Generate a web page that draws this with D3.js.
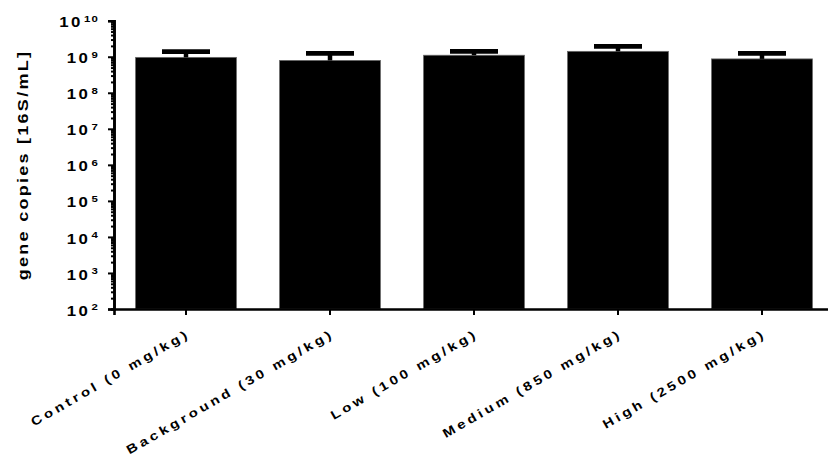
<!DOCTYPE html>
<html>
<head>
<meta charset="utf-8">
<script src="https://cdn.jsdelivr.net/npm/d3@7"></script>
<style>
  html, body { margin: 0; padding: 0; background: #fff; }
  svg { display: block; }
  text { font-family: "Liberation Sans", Arial, sans-serif; font-weight: bold; fill: #000; }
</style>
</head>
<body>
<svg id="chart" width="828" height="458"></svg>
<script>
// Bacterial 16S gene copies per treatment level (mean and upper SD bound)
const categories = ["Control (0 mg/kg)", "Background (30 mg/kg)", "Low (100 mg/kg)", "Medium (850 mg/kg)", "High (2500 mg/kg)"];
const means = [9.6e8, 7.9e8, 1.1e9, 1.41e9, 8.7e8];
const upperErrors = [1.38e9, 1.24e9, 1.40e9, 1.95e9, 1.24e9];
const yTickExponents = [2, 3, 4, 5, 6, 7, 8, 9, 10];

const svg = d3.select("#chart");
const x0 = 114, x1 = 834, yTop = 20.7, yBottom = 309;
const wide = 1.2; // horizontal stretch of the bold lettering

const x = d3.scaleBand().domain(categories).range([x0, x1]).paddingInner(0.3).paddingOuter(0.15);
const y = d3.scaleLog().domain([1e2, 1e10]).range([yBottom, yTop]);

// bars
svg.append("g").selectAll("rect").data(categories).join("rect")
  .attr("x", d => x(d))
  .attr("width", x.bandwidth())
  .attr("y", (d, i) => y(means[i]))
  .attr("height", (d, i) => yBottom - y(means[i]))
  .attr("fill", "#000")
  .attr("stroke", "#666")
  .attr("stroke-width", 0.8);

// error bars (upper only)
const eb = svg.append("g");
categories.forEach((c, i) => {
  const cx = x(c) + x.bandwidth() / 2;
  eb.append("line").attr("x1", cx).attr("x2", cx)
    .attr("y1", y(means[i])).attr("y2", y(upperErrors[i]))
    .attr("stroke", "#000").attr("stroke-width", 4.5);
  eb.append("line").attr("x1", cx - 24).attr("x2", cx + 24)
    .attr("y1", y(upperErrors[i])).attr("y2", y(upperErrors[i]))
    .attr("stroke", "#000").attr("stroke-width", 4.8);
});

// y axis: major decades plus log minor ticks
const minorTicks = [];
for (let e = 2; e < 10; e++) for (let m = 2; m <= 9; m++) minorTicks.push(m * Math.pow(10, e));
const yAxisMinor = d3.axisLeft(y).tickValues(minorTicks).tickSize(3).tickFormat("");
const yAxisMajor = d3.axisLeft(y).tickValues(yTickExponents.map(e => Math.pow(10, e))).tickSize(6).tickFormat("");
const gMinor = svg.append("g").attr("transform", `translate(${x0},0)`).call(yAxisMinor);
const gMajor = svg.append("g").attr("transform", `translate(${x0},0)`).call(yAxisMajor);
[gMinor, gMajor].forEach(g => {
  g.select(".domain").attr("stroke", "#000").attr("stroke-width", 2.6);
  g.selectAll(".tick line").attr("stroke", "#000").attr("stroke-width", 2);
});

// y tick labels with superscript exponents
const lbl = svg.append("g");
yTickExponents.forEach(e => {
  const t = lbl.append("text")
    .attr("transform", `translate(99,${y(Math.pow(10, e)) + 6.6}) scale(${wide},1)`)
    .attr("text-anchor", "end")
    .style("font-size", "14px")
    .style("letter-spacing", "2px");
  t.append("tspan").text("10");
  t.append("tspan").attr("dx", 1).attr("dy", -5.8).style("font-size", "9.5px").style("letter-spacing", "1px").text(String(e));
});

// x axis
const xAxis = d3.axisBottom(x).tickSize(6).tickFormat("");
const gx = svg.append("g").attr("transform", `translate(0,${yBottom})`).call(xAxis);
gx.select(".domain").attr("stroke", "#000").attr("stroke-width", 2.6);
gx.selectAll(".tick line").attr("stroke", "#000").attr("stroke-width", 2);

// rotated category labels
svg.append("g").selectAll("text").data(categories).join("text")
  .attr("transform", d => `translate(${x(d) + x.bandwidth() / 2 + 5},${yBottom + 27}) rotate(-30) scale(${wide},1)`)
  .attr("text-anchor", "end")
  .style("font-size", "12.5px")
  .style("letter-spacing", "2.8px")
  .text(d => d);

// y axis title
svg.append("text")
  .attr("transform", `translate(28,165) rotate(-90) scale(${wide},1)`)
  .attr("text-anchor", "middle")
  .style("font-size", "15px")
  .style("letter-spacing", "1.9px")
  .text("gene copies [16S/mL]");
</script>
</body>
</html>
